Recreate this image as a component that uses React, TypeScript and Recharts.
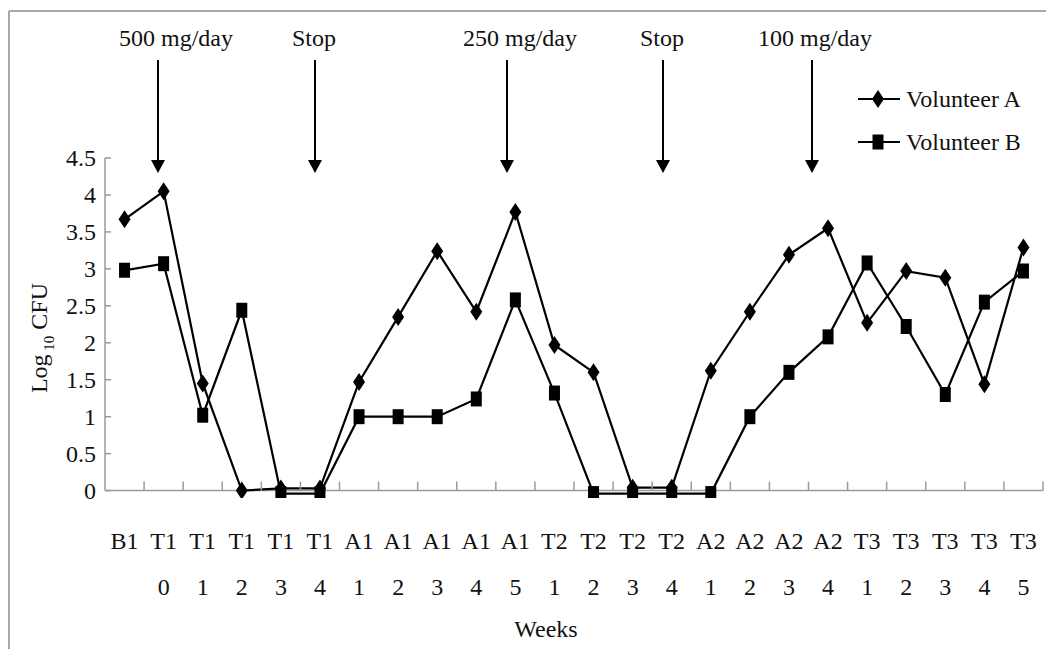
import { ComposedChart, Line, XAxis, YAxis, ReferenceLine } from 'recharts';

// x categories: phase on the first row, week on the second
const PHASES = ['B1', 'T1', 'T1', 'T1', 'T1', 'T1', 'A1', 'A1', 'A1', 'A1', 'A1', 'T2', 'T2', 'T2', 'T2', 'A2', 'A2', 'A2', 'A2', 'T3', 'T3', 'T3', 'T3', 'T3'];
const WEEKS = ['', '0', '1', '2', '3', '4', '1', '2', '3', '4', '5', '1', '2', '3', '4', '1', '2', '3', '4', '1', '2', '3', '4', '5'];

// Log10 CFU
const VOLUNTEER_A = [3.67, 4.05, 1.45, 0, 0.03, 0.03, 1.47, 2.35, 3.24, 2.42, 3.77, 1.97, 1.6, 0.04, 0.04, 1.62, 2.42, 3.19, 3.55, 2.27, 2.97, 2.88, 1.44, 3.29];
const VOLUNTEER_B = [2.98, 3.07, 1.02, 2.44, -0.04, -0.04, 1.0, 1.0, 1.0, 1.24, 2.58, 1.32, -0.04, -0.04, -0.04, -0.04, 1.0, 1.6, 2.08, 3.08, 2.22, 1.3, 2.55, 2.97];

const SERIES_NAMES = ['Volunteer A', 'Volunteer B'];
const Y_TICKS = [0, 0.5, 1, 1.5, 2, 2.5, 3, 3.5, 4, 4.5];

// dose annotations above the plot
const DOSE_NOTES = ['500 mg/day', 'Stop', '250 mg/day', 'Stop', '100 mg/day'];
const NOTE_TEXT_X = [176, 314, 520, 662, 815];
const NOTE_ARROW_X = [158, 315, 507, 663, 812];

const W = 1046;
const H = 649;
const PLOT_LEFT = 105;
const PLOT_RIGHT = 1043;
const PLOT_TOP = 158;
const PLOT_BOTTOM = 498;
const Y_MIN = -0.1;
const Y_MAX = 4.5;
const PPU = (PLOT_BOTTOM - PLOT_TOP) / (Y_MAX - Y_MIN);
const ZERO_Y = PLOT_TOP + Y_MAX * PPU;
const BAND = (PLOT_RIGHT - PLOT_LEFT) / PHASES.length;
const FONT = '"Liberation Serif", "Times New Roman", serif';
const FS = 24;
const GREY = '#9a9a9a';

const categories = PHASES.map((p, i) => `${p} ${WEEKS[i]}`.trim());
const data = categories.map((cat, i) => ({
  cat,
  a: VOLUNTEER_A[i],
  b: VOLUNTEER_B[i],
}));

const diamondPath = (cx: number, cy: number) =>
  `M${cx},${cy - 9} L${cx + 6},${cy} L${cx},${cy + 9} L${cx - 6},${cy} Z`;
const squarePath = (cx: number, cy: number) =>
  `M${cx - 5.5},${cy - 7.5} h11 v15 h-11 Z`;

const DiamondDot = (p: any) => (
  <path key={`a-${p.index}`} d={diamondPath(p.cx, p.cy)} fill="#000" />
);
const SquareDot = (p: any) => (
  <path key={`b-${p.index}`} d={squarePath(p.cx, p.cy)} fill="#000" />
);

function XTick(props: any) {
  const { x, payload } = props;
  const [phase, week] = String(payload.value).split(' ');
  const tx = x + BAND / 2;
  return (
    <g>
      <line x1={tx} x2={tx} y1={ZERO_Y} y2={ZERO_Y - 9} stroke={GREY} strokeWidth={1.5} />
      <text x={x} y={549} textAnchor="middle" fontFamily={FONT} fontSize={FS} fill="#111">
        {phase}
      </text>
      {week && (
        <text x={x} y={595} textAnchor="middle" fontFamily={FONT} fontSize={FS} fill="#111">
          {week}
        </text>
      )}
    </g>
  );
}

function YTick(props: any) {
  const { y, payload } = props;
  return (
    <g>
      <line x1={PLOT_LEFT} x2={PLOT_LEFT + 6} y1={y} y2={y} stroke={GREY} strokeWidth={1.5} />
      <text x={96} y={y} dy={8} textAnchor="end" fontFamily={FONT} fontSize={FS} fill="#111">
        {payload.value}
      </text>
    </g>
  );
}

function Overlay() {
  return (
    <svg width={W} height={H} style={{ position: 'absolute', left: 0, top: 0, pointerEvents: 'none' }}>
      {/* frame */}
      <line x1={9} x2={W} y1={11} y2={11} stroke="#a8a8a8" strokeWidth={2} />
      <line x1={9} x2={9} y1={11} y2={H} stroke="#a8a8a8" strokeWidth={2} />

      {DOSE_NOTES.map((note, i) => (
        <g key={i}>
          <text x={NOTE_TEXT_X[i]} y={46} textAnchor="middle" fontFamily={FONT} fontSize={FS} fill="#111">
            {note}
          </text>
          <line x1={NOTE_ARROW_X[i]} x2={NOTE_ARROW_X[i]} y1={60} y2={162} stroke="#000" strokeWidth={2} />
          <path
            d={`M${NOTE_ARROW_X[i] - 7},${160} L${NOTE_ARROW_X[i] + 7},${160} L${NOTE_ARROW_X[i]},${173} Z`}
            fill="#000"
          />
        </g>
      ))}

      {/* legend */}
      {SERIES_NAMES.map((name, i) => {
        const ly = i === 0 ? 99 : 142;
        return (
          <g key={name}>
            <line x1={858} x2={900} y1={ly} y2={ly} stroke="#000" strokeWidth={2} />
            <path d={i === 0 ? diamondPath(878, ly) : squarePath(878, ly)} fill="#000" />
            <text x={906} y={ly + 8} fontFamily={FONT} fontSize={FS} fill="#111">
              {name}
            </text>
          </g>
        );
      })}

      {/* axis titles */}
      <text
        transform="translate(47,338) rotate(-90)"
        textAnchor="middle"
        fontFamily={FONT}
        fontSize={FS}
        fill="#111"
      >
        Log
        <tspan fontSize={15} dy={7}> 10</tspan>
        <tspan dy={-7}> CFU</tspan>
      </text>
      <text x={546} y={637} textAnchor="middle" fontFamily={FONT} fontSize={FS} fill="#111">
        Weeks
      </text>
    </svg>
  );
}

export default function App() {
  return (
    <div style={{ position: 'absolute', left: 0, top: 0, width: W, height: H, background: '#fff' }}>
      <ComposedChart
        width={W}
        height={H}
        data={data}
        margin={{ top: PLOT_TOP, right: W - PLOT_RIGHT, bottom: 1, left: 0 }}
      >
        <XAxis
          dataKey="cat"
          scale="band"
          interval={0}
          height={H - PLOT_BOTTOM - 1}
          axisLine={false}
          tickLine={false}
          tickSize={0}
          tick={(p: any) => <XTick {...p} />}
        />
        <YAxis
          type="number"
          width={PLOT_LEFT}
          domain={[Y_MIN, Y_MAX]}
          ticks={Y_TICKS}
          allowDataOverflow
          tickLine={false}
          tickSize={0}
          axisLine={{ stroke: GREY, strokeWidth: 1.5, strokeDasharray: `${(Y_MAX * PPU).toFixed(1)} 100` }}
          tick={(p: any) => <YTick {...p} />}
        />
        <ReferenceLine y={0} stroke={GREY} strokeWidth={1.5} />
        <Line
          dataKey="a"
          name={SERIES_NAMES[0]}
          type="linear"
          stroke="#000"
          strokeWidth={2.2}
          dot={DiamondDot}
          activeDot={false}
          isAnimationActive={false}
        />
        <Line
          dataKey="b"
          name={SERIES_NAMES[1]}
          type="linear"
          stroke="#000"
          strokeWidth={2.2}
          dot={SquareDot}
          activeDot={false}
          isAnimationActive={false}
        />
      </ComposedChart>
      <Overlay />
    </div>
  );
}
